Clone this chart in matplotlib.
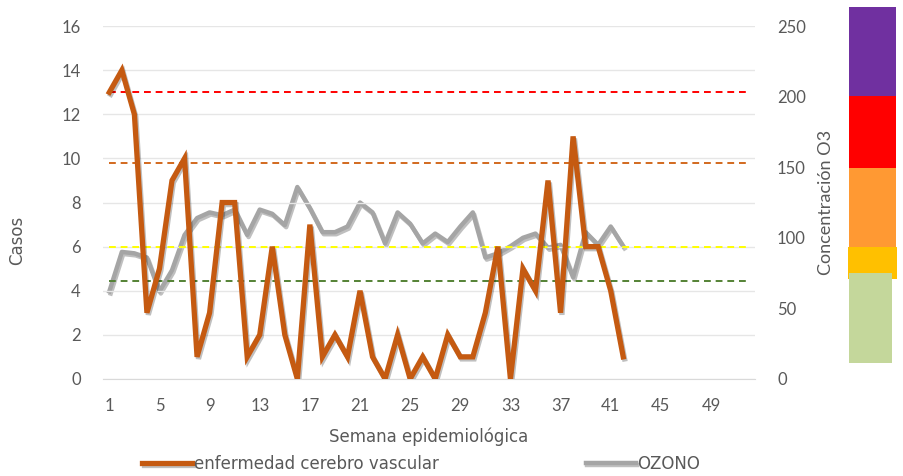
import numpy as np
import matplotlib.pyplot as plt
import matplotlib.patheffects as pe
from matplotlib.patches import Rectangle

# semanas epidemiologicas
semanas_total = np.arange(1, 53)
semanas = np.arange(1, 43)

casos = [13, 14, 12, 3, 5, 9, 10, 1, 3, 8, 8, 1, 2, 6, 2, 0, 7, 1, 2, 1,
         4, 1, 0, 2, 0, 1, 0, 2, 1, 1, 3, 6, 0, 5, 4, 9, 3, 11, 6, 6, 4, 1]

ozono = [62, 90, 89, 86, 62, 77, 102, 114, 118, 116, 120, 102, 120, 117, 109,
         136, 121, 104, 104, 108, 125, 118, 96, 118, 110, 96, 103, 97, 108, 118,
         86, 89, 94, 100, 103, 93, 95, 72, 104, 95, 108, 94]

# umbrales (en escala de casos)
umbrales = [13.0, 9.8, 6.0, 4.45]
umbral_colores = ["#FF0000", "#D2691E", "#FFFF00", "#548235"]

naranja = "#C55A11"
gris = "#A5A5A5"
texto = "#595959"

plt.rcParams['font.family'] = ['Lato', 'DejaVu Sans']
ancha = ['DejaVu Sans']

fig = plt.figure(figsize=(9.04, 4.76), dpi=100)
ax = fig.add_axes([0.114, 0.204, 0.721, 0.741])
ax2 = ax.twinx()

sombra = [pe.SimpleLineShadow(offset=(1, -1.5), alpha=0.25, shadow_color="k"), pe.Normal()]

ln1, = ax.plot(semanas, casos, color=naranja, lw=3.8, solid_joinstyle="miter",
               path_effects=sombra, zorder=4, label="enfermedad cerebro vascular")
ln2, = ax2.plot(semanas, ozono, color=gris, lw=3.2, path_effects=sombra,
                zorder=3, label="OZONO")

for val, col in zip(umbrales, umbral_colores):
    ax.plot(semanas_total, [val] * len(semanas_total), color=col, lw=1.4,
            ls=(0, (3.5, 2.5)), zorder=2)

ax.set_zorder(ax2.get_zorder() + 1)
ax.patch.set_visible(False)

ax.set_xlim(0.5, 52.5)
ax.set_ylim(0, 16)
ax2.set_ylim(0, 250)
ax.set_yticks(range(0, 17, 2))
ax2.set_yticks(range(0, 251, 50))
ax.set_xticks(range(1, 53, 4))
ax.grid(axis="y", color="#E6E6E6", lw=1)
ax.set_axisbelow(True)

for a in (ax, ax2):
    for s in a.spines.values():
        s.set_visible(False)
    a.tick_params(length=0, colors=texto, labelsize=12)
ax.spines["bottom"].set_visible(True)
ax.spines["bottom"].set_color("#D9D9D9")
ax.tick_params(axis="x", pad=14)
ax.tick_params(axis="y", pad=16)
ax2.tick_params(axis="y", pad=16)

ax.set_xlabel("Semana epidemiológica", color=texto, fontsize=12, family=ancha)
ax.xaxis.set_label_coords(0.5, -0.138)
ax.set_ylabel("Casos", color=texto, fontsize=12, family=ancha)
ax.yaxis.set_label_coords(-0.118, 0.394)
ax2.set_ylabel("Concentración O3", color=texto, fontsize=13, labelpad=9)

fig.legend(handles=[ln1, ln2], loc="lower center", bbox_to_anchor=(0.466, -0.025),
           ncol=2, frameon=False, prop={"family": ancha, "size": 12},
           handlelength=3, handletextpad=0.1, columnspacing=8.8,
           labelcolor=texto)

# escala de colores de calidad del aire
bloques = [(0.939, 0.798, 0.187, "#7030A0"),
           (0.939, 0.647, 0.151, "#FF0000"),
           (0.939, 0.481, 0.166, "#FF9933"),
           (0.938, 0.414, 0.067, "#FFC000"),
           (0.939, 0.237, 0.189, "#C4D79B")]
for x0, y0, h, c in bloques:
    w = 0.054 if c == "#FFC000" else (0.048 if c == "#C4D79B" else 0.052)
    fig.patches.append(Rectangle((x0, y0), w, h, transform=fig.transFigure,
                                 facecolor=c, edgecolor="none"))

fig.savefig("out.png", dpi=100)
